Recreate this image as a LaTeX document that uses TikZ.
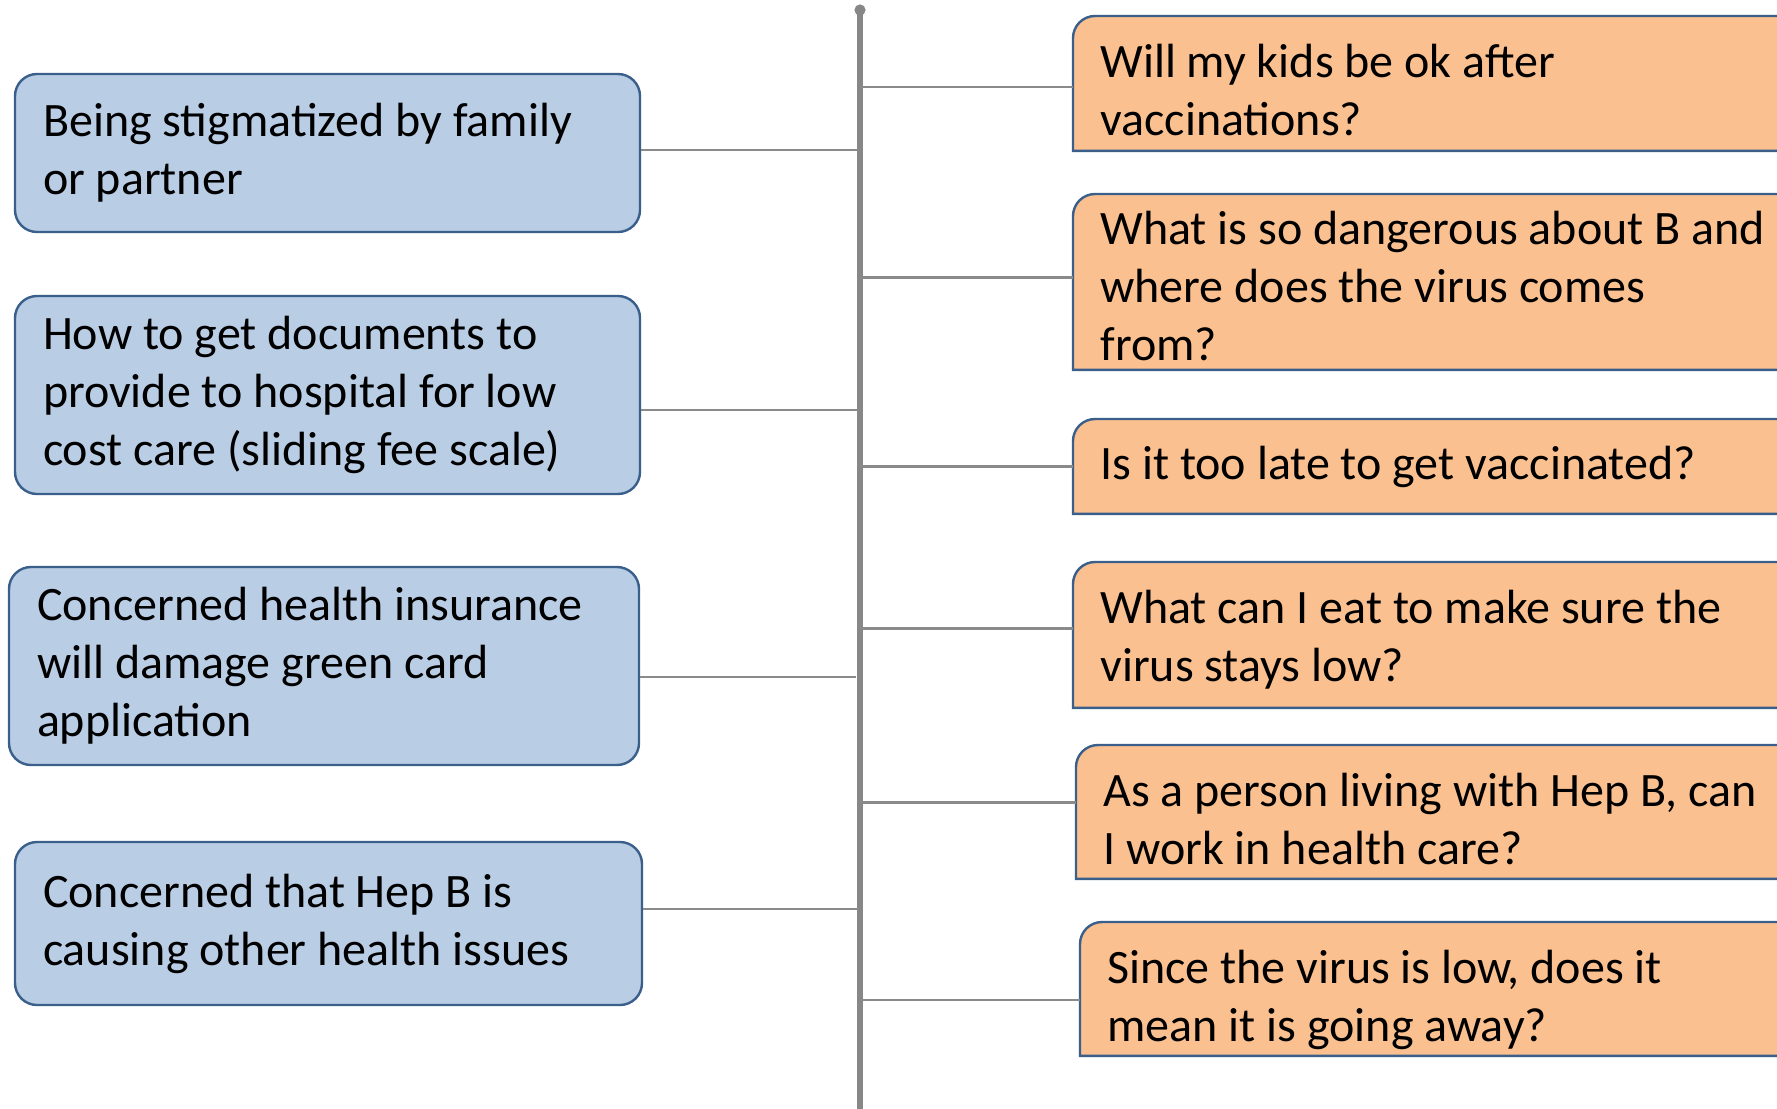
\documentclass[tikz,border=0pt]{standalone}
\usepackage{fontspec}
\setmainfont{Carlito}
\usetikzlibrary{backgrounds}
\definecolor{bluefill}{HTML}{B9CDE5}
\definecolor{orangefill}{HTML}{FAC090}
\definecolor{boxedge}{HTML}{3A5F8B}
\definecolor{spinegrey}{HTML}{878787}
\definecolor{linkgrey}{HTML}{8A8A8A}
% ragged-right text block of a given width, keeping the font's own word spacing;
% the optional argument lowers the block inside its box
\newcommand{\boxlines}[3][0pt]{\raisebox{-#1}{\parbox{#2}{\raggedright #3}}}
\begin{document}
\begin{tikzpicture}[x=0.5pt,y=0.5pt,
  boxfont/.style={font=\fontsize{24}{29}\selectfont},
  concern/.style={boxfont, draw=boxedge, fill=bluefill, line width=1.2pt,
    rounded corners=11pt, inner xsep=14pt, inner ysep=0pt},
  question/.style={boxfont, anchor=north west, inner xsep=13.5pt, inner ysep=0pt},
  qbox/.style={draw=boxedge, fill=orangefill, line width=1.2pt},
  spine/.style={draw=spinegrey, line width=2.8pt},
  link/.style={draw=linkgrey, line width=1.2pt}]
\useasboundingbox (0,0) rectangle (1777,-1108);

% central spine
\coordinate (top) at (860,-10);
\coordinate (bottom) at (860,-1112);
\draw[spine] (top) -- (bottom);
\fill[spinegrey] (top) circle (2.8pt);

% concerns (left)
\node[concern, minimum height=79pt] (b1) at (327.5,-153)
  {\boxlines[0.3pt]{284.5pt}{Being stigmatized by family\\or partner}};
\node[concern, minimum height=99pt] (b2) at (327.5,-395)
  {\boxlines[1.7pt]{284.5pt}{How to get documents to\\provide to hospital for low\\cost care (sliding fee scale)}};
\node[concern, minimum height=99pt] (b3) at (324,-666)
  {\boxlines[1.7pt]{287pt}{Concerned health insurance\\will damage green card\\application}};
\node[concern, minimum height=81.5pt] (b4) at (328.5,-923.5)
  {\boxlines[-1.1pt]{285.5pt}{Concerned that Hep B is\\causing other health issues}};

% questions (right); each text block sits a little below the middle of its box,
% so the node starts below the box top by the amount listed with the box
\node[question, minimum height=60pt] (r1) at (1073,-30)
  {\boxlines{353pt}{Will my kids be ok after\\vaccinations?}};
\node[question, minimum height=83pt] (r2) at (1073,-203)
  {\boxlines{353pt}{What is so dangerous about B and\\where does the virus comes\\from?}};
\node[question, minimum height=46pt] (r3) at (1073,-421)
  {\boxlines{353pt}{Is it too late to get vaccinated?}};
\node[question, minimum height=67.5pt] (r4) at (1073,-572)
  {\boxlines{353pt}{What can I eat to make sure the\\virus stays low?}};
\node[question, minimum height=59pt] (r5) at (1076,-760)
  {\boxlines{353pt}{As a person living with Hep B, can\\I work in health care?}};
\node[question, minimum height=55.5pt] (r6) at (1080,-944)
  {\boxlines{353pt}{Since the virus is low, does it\\mean it is going away?}};

\begin{pgfonlayer}{background}
  \foreach \q/\d in {r1/7, r2/4.5, r3/1, r4/5, r5/7.5, r6/11}{
    \draw[qbox] (\q.south west) -- ([yshift=\d pt-11pt]\q.north west)
      arc[start angle=180, end angle=90, radius=11pt]
      -- ([yshift=\d pt]\q.north east) -- (\q.south east) -- cycle;
  }
\end{pgfonlayer}

% links to the spine
\draw[link] ([yshift=1.5pt]b1.east) coordinate (p1) -- (p1 -| top);
\draw[link] ([yshift=-7.5pt]b2.east) coordinate (p2) -- (p2 -| top);
\draw[link] ([yshift=-5.5pt]b3.east) coordinate (p3) -- ([xshift=-2pt]p3 -| top);
\draw[link] ([yshift=7.25pt]b4.east) coordinate (p4) -- (p4 -| top);
\draw[link] ([yshift=1.65pt]r1.west) coordinate (q1) -- (q1 -| top);
\draw[link] ([yshift=4.5pt]r2.west) coordinate (q2) -- (q2 -| top);
\draw[link] ([yshift=0.5pt]r3.west) coordinate (q3) -- (q3 -| top);
\draw[link] ([yshift=5.75pt]r4.west) coordinate (q4) -- (q4 -| top);
\draw[link] ([yshift=8.5pt]r5.west) coordinate (q5) -- (q5 -| top);
\draw[link] (r6.west) coordinate (q6) -- (q6 -| top);
\end{tikzpicture}
\end{document}
